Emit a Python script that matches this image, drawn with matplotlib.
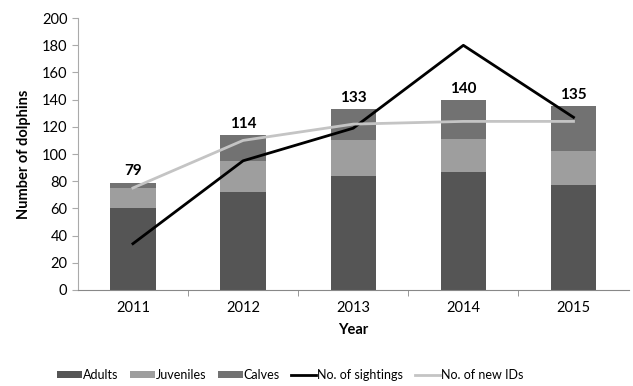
import numpy as np
import matplotlib
matplotlib.use("Agg")
import matplotlib.pyplot as plt

plt.rcParams['font.family'] = ['Lato', 'DejaVu Sans']

years = ["2011", "2012", "2013", "2014", "2015"]
adults = [60, 72, 84, 87, 77]
juveniles = [15, 23, 26, 24, 25]
calves = [4, 19, 23, 29, 33]
totals = [79, 114, 133, 140, 135]
sightings = [34, 95, 119, 180, 127]
new_ids = [75, 110, 122, 124, 124]

x = np.arange(len(years))
fig = plt.figure(figsize=(6.33, 3.86), dpi=100)
ax = fig.add_axes([0.123, 0.249, 0.87, 0.704])

w = 0.41
b1 = ax.bar(x, adults, w, color="#555555", label="Adults")
b2 = ax.bar(x, juveniles, w, bottom=adults, color="#9e9e9e", label="Juveniles")
bottom2 = [a + j for a, j in zip(adults, juveniles)]
b3 = ax.bar(x, calves, w, bottom=bottom2, color="#727272", label="Calves")
l1, = ax.plot(x, sightings, color="black", lw=2, label="No. of sightings")
l2, = ax.plot(x, new_ids, color="#c4c4c4", lw=2, label="No. of new IDs")

for xi, t in zip(x, totals):
    ax.text(xi, t + 3, str(t), ha="center", va="bottom", fontsize=11, fontweight="bold")

ax.set_xlim(-0.5, 4.5)
ax.set_ylim(0, 200)
ax.set_yticks(range(0, 201, 20))
ax.set_xticks(x)
ax.set_xticklabels(years)
ax.set_xticks(np.arange(0.5, 4.5, 1), minor=True)
ax.tick_params(axis="x", which="major", length=0, labelsize=10.5, pad=8)
ax.tick_params(axis="x", which="minor", length=4, color="#888888")
ax.tick_params(axis="y", length=4, color="#aaaaaa", labelsize=10.5)

for s in ["top", "right"]:
    ax.spines[s].set_visible(False)
ax.spines["left"].set_color("#aaaaaa")
ax.spines["bottom"].set_color("#888888")

ax.set_xlabel("Year", fontsize=10.5, fontweight="bold", labelpad=6)
ax.set_ylabel("Number of dolphins", fontsize=10.5, fontweight="bold", labelpad=8)

ax.legend([b1, b2, b3, l1, l2], ["Adults", "Juveniles", "Calves", "No. of sightings", "No. of new IDs"],
          loc="upper center", bbox_to_anchor=(0.385, -0.25), ncol=5, frameon=False,
          fontsize=9, handlelength=2.0, handleheight=0.5, columnspacing=0.9, handletextpad=0.1)

fig.savefig("out.png", dpi=100)
